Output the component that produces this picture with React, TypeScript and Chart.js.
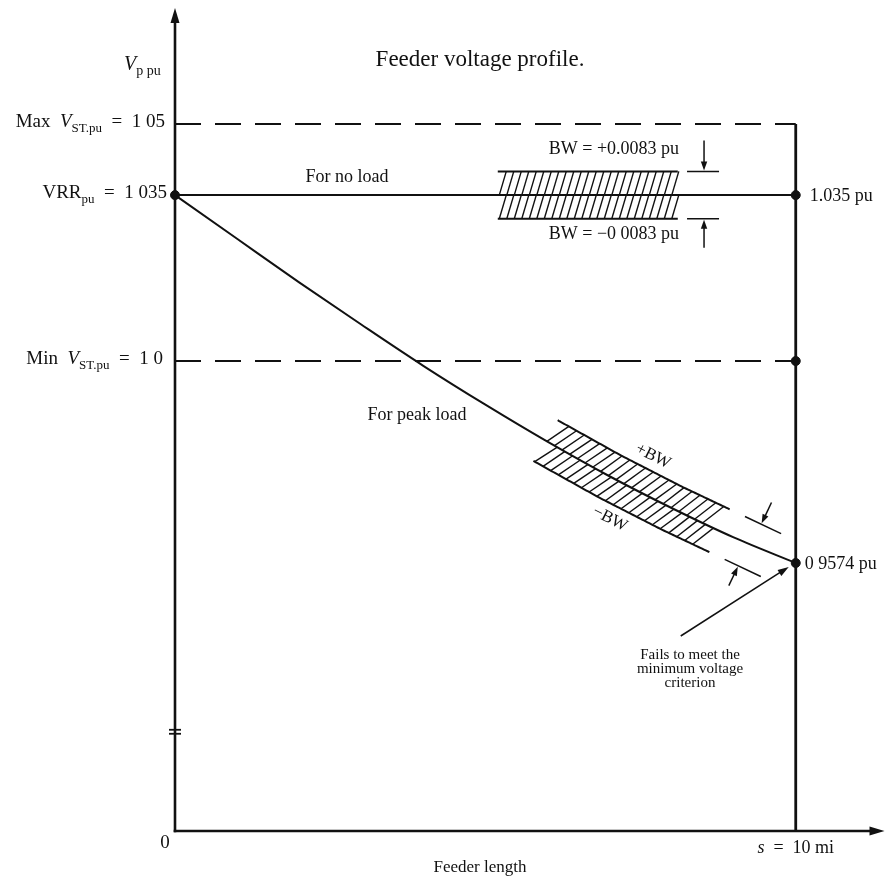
import React, { useEffect, useRef } from "react";
import { Chart, registerables } from "chart.js";

Chart.register(...registerables);

// ---------------- data ----------------
const feederMiles = [0, 1, 2, 3, 4, 5, 6, 7, 8, 9, 10];
const peakLoadVoltage = [1.035, 1.0258, 1.0166, 1.0077, 0.999, 0.9908, 0.983, 0.9757, 0.969, 0.9628, 0.9574];
const noLoadVoltage = 1.035;
const maxVoltage = 1.05;
const minVoltage = 1.0;
const feederLength = 10;
const peakEndVoltage = 0.9574;
const axisMiles = [0, 11.43];
const axisVoltage = [0.90087, 1.07447];
const axisBreakVoltage = 0.9218;
const noLoadBandMiles = [5.2, 8.12];
const peakBandMiles = [5.97, 8.8];
const bandHalfWidth = 0.005;

// ---------------- text ----------------
const titleText = "Feeder voltage profile.";
const xAxisTitle = "Feeder length";
const originLabel = "0";
const noLoadLabel = "For no load";
const peakLoadLabel = "For peak load";
const bwPlusLabel = "BW = +0.0083 pu";
const bwMinusLabel = "BW = \u22120 0083 pu";
const rightNoLoadLabel = "1.035 pu";
const rightPeakLabel = "0 9574 pu";
const failNote = ["Fails to meet the", "minimum voltage", "criterion"];

type Seg = { t: string; it?: boolean; sub?: boolean };
const yAxisTitle: Seg[] = [{ t: "V", it: true }, { t: "p pu", sub: true }];
const maxLabel: Seg[] = [{ t: "Max  " }, { t: "V", it: true }, { t: "ST.pu", sub: true }, { t: "  =  1 05" }];
const vrrLabel: Seg[] = [{ t: "VRR" }, { t: "pu", sub: true }, { t: "  =  1 035" }];
const minLabel: Seg[] = [{ t: "Min  " }, { t: "V", it: true }, { t: "ST.pu", sub: true }, { t: "  =  1 0" }];
const xEndLabel: Seg[] = [{ t: "s", it: true }, { t: "  =  10 mi" }];

const FONT = "'Liberation Serif', 'Times New Roman', serif";
const INK = "#111";

function peakAt(x: number): number {
  for (let i = 0; i < feederMiles.length - 1; i++) {
    if (x <= feederMiles[i + 1]) {
      const t = (x - feederMiles[i]) / (feederMiles[i + 1] - feederMiles[i]);
      return peakLoadVoltage[i] + t * (peakLoadVoltage[i + 1] - peakLoadVoltage[i]);
    }
  }
  return peakLoadVoltage[peakLoadVoltage.length - 1];
}

function fontFor(s: Seg, size: number) {
  return `${s.it ? "italic " : ""}${s.sub ? Math.round(size * 0.68) : size}px ${FONT}`;
}

function drawRich(ctx: CanvasRenderingContext2D, segs: Seg[], x: number, y: number, size: number, align: string) {
  let w = 0;
  for (const s of segs) {
    ctx.font = fontFor(s, size);
    w += ctx.measureText(s.t).width;
  }
  let cx = align === "left" ? x : align === "center" ? x - w / 2 : x - w;
  ctx.textAlign = "left";
  ctx.textBaseline = "middle";
  for (const s of segs) {
    ctx.font = fontFor(s, size);
    ctx.fillText(s.t, cx, s.sub ? y + size * 0.32 : y);
    cx += ctx.measureText(s.t).width;
  }
}

function seg(ctx: CanvasRenderingContext2D, x1: number, y1: number, x2: number, y2: number) {
  ctx.beginPath();
  ctx.moveTo(x1, y1);
  ctx.lineTo(x2, y2);
  ctx.stroke();
}

function arrow(ctx: CanvasRenderingContext2D, x1: number, y1: number, x2: number, y2: number, head = 9, hw = 3.2, lw = 1.5) {
  const dx = x2 - x1, dy = y2 - y1;
  const L = Math.hypot(dx, dy);
  const ux = dx / L, uy = dy / L;
  ctx.lineWidth = lw;
  seg(ctx, x1, y1, x2 - ux * head * 0.8, y2 - uy * head * 0.8);
  ctx.beginPath();
  ctx.moveTo(x2, y2);
  ctx.lineTo(x2 - ux * head - uy * hw, y2 - uy * head + ux * hw);
  ctx.lineTo(x2 - ux * head + uy * hw, y2 - uy * head - ux * hw);
  ctx.closePath();
  ctx.fill();
}

type Pt = { x: number; y: number; tx: number; ty: number; nx: number; ny: number };

function makeFrame(chart: any, valueAt: (x: number) => number, x0: number, x1: number) {
  const xs = chart.scales.x, ys = chart.scales.y;
  const N = 240;
  const pts: number[][] = [];
  for (let i = 0; i <= N; i++) {
    const x = x0 + ((x1 - x0) * i) / N;
    pts.push([xs.getPixelForValue(x), ys.getPixelForValue(valueAt(x))]);
  }
  const cum = [0];
  for (let i = 1; i <= N; i++) cum.push(cum[i - 1] + Math.hypot(pts[i][0] - pts[i - 1][0], pts[i][1] - pts[i - 1][1]));
  const len = cum[N];
  const at = (s: number): Pt => {
    let i = 0;
    if (s >= len) i = N - 1;
    else if (s > 0) {
      while (i < N - 1 && cum[i + 1] < s) i++;
    }
    const a = pts[i], b = pts[i + 1];
    const L = cum[i + 1] - cum[i];
    const tx = (b[0] - a[0]) / L, ty = (b[1] - a[1]) / L;
    const d = s - cum[i];
    return { x: a[0] + tx * d, y: a[1] + ty * d, tx, ty, nx: ty, ny: -tx };
  };
  return { len, at };
}

function drawBand(ctx: CanvasRenderingContext2D, f: { len: number; at: (s: number) => Pt }, h: number, spacing: number, shift: number) {
  ctx.lineWidth = 2;
  for (const sign of [1, -1]) {
    ctx.beginPath();
    for (let s = 0; s <= f.len + 0.01; s += 2) {
      const p = f.at(Math.min(s, f.len));
      const px = p.x + sign * p.nx * h, py = p.y + sign * p.ny * h;
      if (s === 0) ctx.moveTo(px, py);
      else ctx.lineTo(px, py);
    }
    ctx.stroke();
  }
  ctx.lineWidth = 1.4;
  for (let s = 1.5; s + shift <= f.len; s += spacing) {
    const a = f.at(s), b = f.at(s + shift);
    seg(ctx, a.x, a.y, b.x + b.nx * h, b.y + b.ny * h);
    seg(ctx, a.x - a.nx * h, a.y - a.ny * h, b.x, b.y);
  }
}

const overlay = {
  id: "overlay",
  afterDatasetsDraw(chart: any) {
    const ctx: CanvasRenderingContext2D = chart.ctx;
    const xs = chart.scales.x, ys = chart.scales.y;
    const X = (v: number) => xs.getPixelForValue(v);
    const Y = (v: number) => ys.getPixelForValue(v);
    ctx.save();
    ctx.strokeStyle = INK;
    ctx.fillStyle = INK;

    // axes with arrows
    const ax0 = X(axisMiles[0]), ax1 = X(axisMiles[1]);
    const ayb = Y(axisVoltage[0]), ayt = Y(axisVoltage[1]);
    ctx.lineWidth = 2.6;
    seg(ctx, ax0, ayb + 1.3, ax0, ayt + 10);
    seg(ctx, ax0 - 1.3, ayb, ax1 - 10, ayb);
    ctx.beginPath();
    ctx.moveTo(ax0, ayt);
    ctx.lineTo(ax0 - 4.5, ayt + 15);
    ctx.lineTo(ax0 + 4.5, ayt + 15);
    ctx.closePath();
    ctx.fill();
    ctx.beginPath();
    ctx.moveTo(ax1, ayb);
    ctx.lineTo(ax1 - 15, ayb - 4.5);
    ctx.lineTo(ax1 - 15, ayb + 4.5);
    ctx.closePath();
    ctx.fill();

    // axis break mark
    const yBreak = Y(axisBreakVoltage);
    ctx.lineWidth = 1.8;
    seg(ctx, ax0 - 6, yBreak - 2, ax0 + 6, yBreak - 2);
    seg(ctx, ax0 - 6, yBreak + 2, ax0 + 6, yBreak + 2);

    const pxPerPu = Math.abs(Y(0) - Y(1));
    const h = bandHalfWidth * pxPerPu;

    // no-load band
    const fNo = makeFrame(chart, () => noLoadVoltage, noLoadBandMiles[0], noLoadBandMiles[1]);
    drawBand(ctx, fNo, h, 7.5, 7);
    const bandEndX = X(noLoadBandMiles[1]);
    const yUp = Y(noLoadVoltage) - h, yLo = Y(noLoadVoltage) + h;
    ctx.lineWidth = 1.5;
    seg(ctx, bandEndX + 8, yUp, bandEndX + 40, yUp);
    seg(ctx, bandEndX + 8, yLo, bandEndX + 40, yLo);
    arrow(ctx, bandEndX + 25, yUp - 31, bandEndX + 25, yUp - 1);
    arrow(ctx, bandEndX + 25, yLo + 29, bandEndX + 25, yLo + 1);

    // peak-load band
    const fPk = makeFrame(chart, peakAt, peakBandMiles[0], peakBandMiles[1]);
    drawBand(ctx, fPk, h, 8.8, 12);
    const L = fPk.len;
    const t1 = fPk.at(L + 15), t2 = fPk.at(L + 55);
    ctx.lineWidth = 1.5;
    seg(ctx, t1.x + t1.nx * h, t1.y + t1.ny * h, t2.x + t2.nx * h, t2.y + t2.ny * h);
    seg(ctx, t1.x - t1.nx * h, t1.y - t1.ny * h, t2.x - t2.nx * h, t2.y - t2.ny * h);
    const au = fPk.at(L + 33);
    arrow(ctx, au.x + au.nx * (h + 24), au.y + au.ny * (h + 24), au.x + au.nx * (h + 1), au.y + au.ny * (h + 1));
    const al = fPk.at(L + 30);
    arrow(ctx, al.x - al.nx * (h + 22), al.y - al.ny * (h + 22), al.x - al.nx * (h + 1), al.y - al.ny * (h + 1));

    // rotated band labels
    const ang = Math.atan2(fPk.at(L * 0.5).ty, fPk.at(L * 0.5).tx);
    const lp = fPk.at(L * 0.52);
    ctx.save();
    ctx.translate(lp.x + lp.nx * (h + 14), lp.y + lp.ny * (h + 14));
    ctx.rotate(ang);
    drawRich(ctx, [{ t: "+BW" }], 0, 0, 17, "center");
    ctx.restore();
    const lm = fPk.at(L * 0.47);
    ctx.save();
    ctx.translate(lm.x - lm.nx * (h + 14), lm.y - lm.ny * (h + 14));
    ctx.rotate(ang);
    drawRich(ctx, [{ t: "\u2212BW" }], 0, 0, 17, "center");
    ctx.restore();

    // fail arrow
    const ex = X(feederLength), ey = Y(peakEndVoltage);
    arrow(ctx, ex - 115, ey + 73, ex - 7, ey + 4, 11, 3.5, 1.5);

    // texts
    drawRich(ctx, [{ t: titleText }], 480, 60, 23, "center");
    drawRich(ctx, yAxisTitle, ax0 - 51, 65, 20, "left");
    drawRich(ctx, maxLabel, ax0 - 10, Y(maxVoltage) - 2, 19, "right");
    drawRich(ctx, vrrLabel, ax0 - 8, Y(noLoadVoltage) - 2, 19, "right");
    drawRich(ctx, minLabel, ax0 - 12, Y(minVoltage) - 2, 19, "right");
    drawRich(ctx, [{ t: noLoadLabel }], 347, Y(noLoadVoltage) - 18, 18, "center");
    drawRich(ctx, [{ t: peakLoadLabel }], 417, 415, 18, "center");
    drawRich(ctx, [{ t: bwPlusLabel }], bandEndX, yUp - 22, 18, "right");
    drawRich(ctx, [{ t: bwMinusLabel }], bandEndX, yLo + 15, 18, "right");
    drawRich(ctx, [{ t: rightNoLoadLabel }], ex + 14, Y(noLoadVoltage) + 1, 18, "left");
    drawRich(ctx, [{ t: rightPeakLabel }], ex + 9, Y(peakEndVoltage) + 1, 18, "left");
    failNote.forEach((line, i) => drawRich(ctx, [{ t: line }], 690, 655 + i * 14, 15, "center"));
    drawRich(ctx, [{ t: originLabel }], ax0 - 10, ayb + 12, 19, "center");
    drawRich(ctx, xEndLabel, ex, ayb + 17, 18, "center");
    drawRich(ctx, [{ t: xAxisTitle }], 480, ayb + 37, 17, "center");

    ctx.restore();
  },
};

export default function App() {
  const ref = useRef<HTMLCanvasElement | null>(null);
  useEffect(() => {
    if (!ref.current) return;
    const lineStyle = { borderColor: INK, pointRadius: 0, fill: false, clip: false as any };
    const chart = new Chart(ref.current, {
      type: "line",
      data: {
        datasets: [
          {
            ...lineStyle,
            label: "peak",
            data: feederMiles.map((x, i) => ({ x, y: peakLoadVoltage[i] })),
            borderWidth: 2,
            cubicInterpolationMode: "monotone",
          },
          {
            ...lineStyle,
            label: "noload",
            data: [{ x: 0, y: noLoadVoltage }, { x: feederLength, y: noLoadVoltage }],
            borderWidth: 2,
          },
          {
            ...lineStyle,
            label: "max",
            data: [{ x: 0, y: maxVoltage }, { x: feederLength, y: maxVoltage }],
            borderWidth: 2,
            borderDash: [26, 14],
          },
          {
            ...lineStyle,
            label: "min",
            data: [{ x: 0, y: minVoltage }, { x: feederLength, y: minVoltage }],
            borderWidth: 2,
            borderDash: [26, 14],
          },
          {
            ...lineStyle,
            label: "end",
            data: [{ x: feederLength, y: axisVoltage[0] }, { x: feederLength, y: maxVoltage }],
            borderWidth: 2.8,
          },
          {
            label: "dots",
            data: [
              { x: 0, y: noLoadVoltage },
              { x: feederLength, y: noLoadVoltage },
              { x: feederLength, y: minVoltage },
              { x: feederLength, y: peakEndVoltage },
            ],
            showLine: false,
            pointRadius: 4.5,
            pointBackgroundColor: INK,
            pointBorderColor: INK,
            borderColor: INK,
            clip: false as any,
          },
        ] as any,
      },
      options: {
        animation: false,
        responsive: true,
        maintainAspectRatio: false,
        layout: { padding: { left: 175, right: 1, top: 8, bottom: 57 } },
        plugins: { legend: { display: false }, tooltip: { enabled: false } },
        events: [],
        scales: {
          x: { type: "linear", min: axisMiles[0], max: axisMiles[1], display: false },
          y: { type: "linear", min: axisVoltage[0], max: axisVoltage[1], display: false },
        },
      },
      plugins: [overlay],
    });
    return () => chart.destroy();
  }, []);
  return (
    <div style={{ position: "absolute", left: 0, top: 0, width: 890, height: 888, background: "#fff" }}>
      <canvas ref={ref} />
    </div>
  );
}
